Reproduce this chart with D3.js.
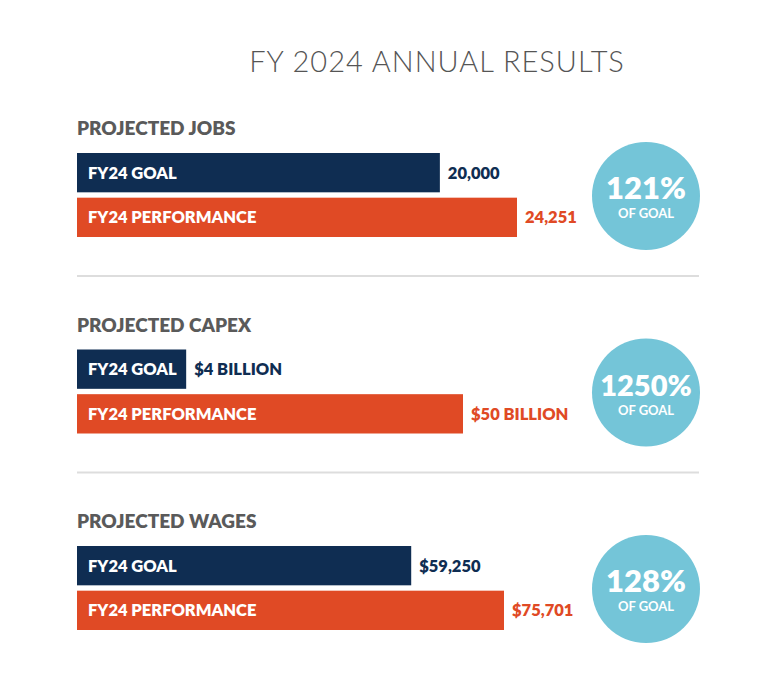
<!DOCTYPE html>
<html><head><meta charset="utf-8">
<script src="https://cdn.jsdelivr.net/npm/d3@7"></script>
<style>body{margin:0;background:#fff}</style>
</head><body><svg id="c" width="775" height="688"></svg>
<script>
const sections = ["PROJECTED JOBS","PROJECTED CAPEX","PROJECTED WAGES"];
const seriesNames = ["FY24 GOAL","FY24 PERFORMANCE"];
const goalValues = [20000, 4, 59250];
const perfValues = [24251, 50, 75701];
const valueLabels = [["20,000","24,251"],["$4 BILLION","$50 BILLION"],["$59,250","$75,701"]];
const pctLabels = ["121%","1250%","128%"];
const scaleKinds = ["linear","sqrt","linear"];
const perfWidths = [440, 386, 427];

const svg = d3.select("#c");
const font = "Lato, 'Open Sans', sans-serif";
const navy = "#0f2d52", orange = "#e04a25", teal = "#74c5d8";
svg.append("text").attr("x",437).attr("y",72).attr("text-anchor","middle")
  .attr("font-family",font).attr("font-size",29).attr("font-weight",300)
  .attr("fill","#555").attr("letter-spacing",1).text("FY 2024 ANNUAL RESULTS");

const secY = d3.scaleLinear().domain([0,1]).range([0,196.5]);
sections.forEach((s,i)=>{
  const g = svg.append("g").attr("transform",`translate(0,${secY(i)})`);
  g.append("text").attr("x",77).attr("y",135).attr("font-family",font)
    .attr("font-size",19).attr("font-weight",800).attr("fill","#5a5a5a").text(s);
  const x = (scaleKinds[i]==="sqrt"?d3.scaleSqrt():d3.scaleLinear())
    .domain([0,perfValues[i]]).range([0,perfWidths[i]]);
  const y = d3.scaleBand().domain(seriesNames).range([153,237]).paddingInner(0.12);
  const vals=[goalValues[i],perfValues[i]], cols=[navy,orange];
  seriesNames.forEach((n,j)=>{
    const w=x(vals[j]);
    g.append("rect").attr("x",77).attr("y",y(n)).attr("width",w).attr("height",y.bandwidth()).attr("fill",cols[j]);
    g.append("text").attr("x",88).attr("y",y(n)+y.bandwidth()/2+6).attr("font-family",font)
      .attr("font-size",16.5).attr("font-weight",800).attr("fill","#fff").text(n);
    g.append("text").attr("x",77+w+8).attr("y",y(n)+y.bandwidth()/2+6).attr("font-family",font)
      .attr("font-size",16.5).attr("font-weight",800).attr("fill",cols[j]).text(valueLabels[i][j]);
  });
  g.append("circle").attr("cx",646).attr("cy",196).attr("r",54).attr("fill",teal);
  g.append("text").attr("x",646).attr("y",199).attr("text-anchor","middle").attr("font-family",font)
    .attr("font-size",pctLabels[i].length>4?29:31).attr("font-weight",800).attr("fill","#fff").text(pctLabels[i]);
  g.append("text").attr("x",646).attr("y",218).attr("text-anchor","middle").attr("font-family",font)
    .attr("font-size",13).attr("font-weight",700).attr("fill","#fff").text("OF GOAL");
  if(i<2) g.append("line").attr("x1",77).attr("x2",699).attr("y1",276).attr("y2",276)
    .attr("stroke","#ddd").attr("stroke-width",2);
});
</script></body></html>
